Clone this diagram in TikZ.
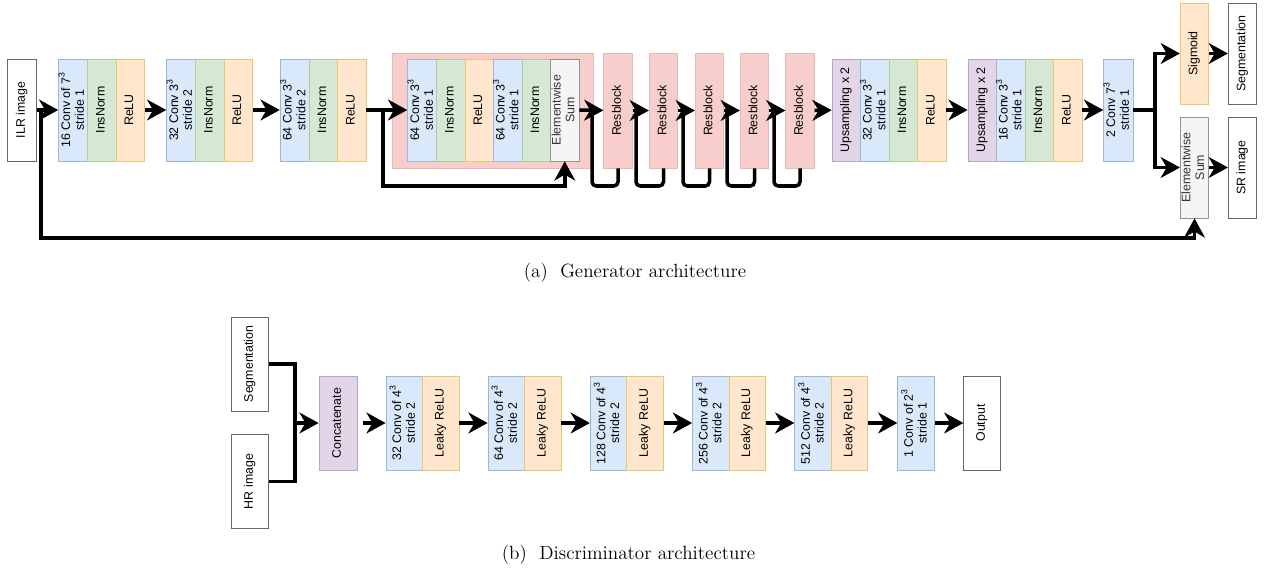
\documentclass[tikz,border=0pt]{standalone}
\usepackage{fontspec}
\setsansfont{Liberation Sans}
\usepackage{graphicx}
\usepackage{tikz}
\usetikzlibrary{arrows.meta,positioning,calc}
\definecolor{convfill}{HTML}{DAE8FC}
\definecolor{convline}{HTML}{6C8EBF}
\definecolor{normfill}{HTML}{D5E8D4}
\definecolor{normline}{HTML}{82B366}
\definecolor{actfill}{HTML}{FFE6CC}
\definecolor{actline}{HTML}{D79B00}
\definecolor{resfill}{HTML}{F8CECC}
\definecolor{resline}{HTML}{B85450}
\definecolor{upfill}{HTML}{E1D5E7}
\definecolor{upline}{HTML}{9673A6}
\definecolor{sumfill}{HTML}{F5F5F5}
\definecolor{sumline}{HTML}{666666}
\definecolor{sumtext}{HTML}{333333}
\newcommand{\vlab}[1]{\rotatebox{90}{\begin{tabular}{@{}c@{}}#1\end{tabular}}}
\tikzset{
  col/.style={rectangle, inner sep=0pt, line width=0.5pt, minimum width=0.7125cm, minimum height=2.55cm, font=\sffamily\fontsize{8.8}{9.8}\selectfont},
  dcol/.style={col, minimum width=0.9125cm, minimum height=2.35cm},
  conv/.style={draw=convline!65, fill=convfill},
  norm/.style={draw=normline!65, fill=normfill},
  act/.style={draw=actline!55, fill=actfill},
  upsamp/.style={draw=upline!65, fill=upfill},
  sumbox/.style={draw=sumline!70, fill=sumfill, text=sumtext},
  iobox/.style={draw=black!60, fill=white},
  resb/.style={col, draw=resline!40, fill=resfill, minimum height=2.875cm},
  resbg/.style={rectangle, draw=resline!40, fill=resfill, line width=0.5pt, minimum width=5.025cm, minimum height=2.875cm},
  wire/.style={line width=2.5pt},
  loopline/.style={wire, rounded corners=3pt},
  flow/.style={wire, -{Stealth[length=4.8mm, width=5.2mm, inset=1.5mm]}},
  caption/.style={font=\fontsize{13.6}{16}\selectfont},
}
\begin{document}
\begin{tikzpicture}[x=0.025cm, y=-0.025cm]
  \useasboundingbox (0,0) rectangle (1266,572);
  % generator
  \node[resbg] (rbox) at (492.5,110.5) {};
  \node[col,iobox] (ilr) at (22,110) {\vlab{ILR image}};
  \node[col,conv] (c1) at (73.25,110) {\vlab{16 Conv of 7\textsuperscript{3}\\stride 1}};
  \node[col,norm] (n1) at (101.75,110) {\vlab{InsNorm}};
  \node[col,act] (r1) at (130.25,110) {\vlab{ReLU}};
  \node[col,conv] (c2) at (181.25,110) {\vlab{32 Conv 3\textsuperscript{3}\\stride 2}};
  \node[col,norm] (n2) at (209.75,110) {\vlab{InsNorm}};
  \node[col,act] (r2) at (238.25,110) {\vlab{ReLU}};
  \node[col,conv] (c3) at (294.75,110) {\vlab{64 Conv 3\textsuperscript{3}\\stride 2}};
  \node[col,norm] (n3) at (323.25,110) {\vlab{InsNorm}};
  \node[col,act] (r3) at (351.75,110) {\vlab{ReLU}};
  \node[col,conv] (rc1) at (422.25,110) {\vlab{64 Conv 3\textsuperscript{3}\\stride 1}};
  \node[col,norm] (rn1) at (450.75,110) {\vlab{InsNorm}};
  \node[col,act] (rr) at (479.25,110) {\vlab{ReLU}};
  \node[col,conv] (rc2) at (507.75,110) {\vlab{64 Conv 3\textsuperscript{3}\\stride 1}};
  \node[col,norm] (rn2) at (536.25,110) {\vlab{InsNorm}};
  \node[col,sumbox] (rsum) at (564.75,110) {\vlab{Elementwise\\Sum}};
  \node[resb] (res1) at (618,110.5) {\vlab{Resblock}};
  \node[resb] (res2) at (663.5,110.5) {\vlab{Resblock}};
  \node[resb] (res3) at (709.5,110.5) {\vlab{Resblock}};
  \node[resb] (res4) at (754.5,110.5) {\vlab{Resblock}};
  \node[resb] (res5) at (800,110.5) {\vlab{Resblock}};
  \node[col,upsamp] (up1) at (846.25,110) {\vlab{Upsampling x 2}};
  \node[col,conv] (uc1) at (874.75,110) {\vlab{32 Conv 3\textsuperscript{3}\\stride 1}};
  \node[col,norm] (un1) at (903.25,110) {\vlab{InsNorm}};
  \node[col,act] (ur1) at (931.75,110) {\vlab{ReLU}};
  \node[col,upsamp] (up2) at (982.25,110) {\vlab{Upsampling x 2}};
  \node[col,conv] (uc2) at (1010.75,110) {\vlab{16 Conv 3\textsuperscript{3}\\stride 1}};
  \node[col,norm] (un2) at (1039.25,110) {\vlab{InsNorm}};
  \node[col,act] (ur2) at (1067.75,110) {\vlab{ReLU}};
  \node[col,conv] (fc) at (1118.25,110) {\vlab{2 Conv 7\textsuperscript{3}\\stride 1}};
  \node[col,act,minimum height=2.525cm] (sig) at (1194.5,53.5) {\vlab{Sigmoid}};
  \node[col,iobox,minimum height=2.525cm] (seg) at (1242.5,53.5) {\vlab{Segmentation}};
  \node[col,sumbox,minimum height=2.525cm] (esum) at (1194.5,167.5) {\vlab{Elementwise\\Sum}};
  \node[col,iobox,minimum height=2.525cm] (sr) at (1242.5,167.5) {\vlab{SR image}};
  \coordinate (s0) at (41,110); \coordinate (s1) at (41,238);
  \coordinate (k0) at (383,110); \coordinate (k1) at (383,186);
  \coordinate (l1) at (592,186); \coordinate (l1t) at (592,110);
  \coordinate (l2) at (636,186); \coordinate (l2t) at (636,110);
  \coordinate (l3) at (683,186); \coordinate (l3t) at (683,110);
  \coordinate (l4) at (727,186); \coordinate (l4t) at (727,110);
  \coordinate (l5) at (774,186); \coordinate (l5t) at (774,110);
  \coordinate (split) at (1155,110);
  \draw[flow] (ilr)--(c1); \draw[flow] (r1)--(c2); \draw[flow] (r2)--(c3); \draw[flow] (r3)--(rc1);
  \draw[flow] (s0)--(s1)-|(esum); \draw[flow] (k0)--(k1)-|(rsum);
  \draw[flow] (rsum)--(res1); \draw[flow] (res1)--(res2); \draw[flow] (res2)--(res3);
  \draw[flow] (res3)--(res4); \draw[flow] (res4)--(res5); \draw[flow] (res5)--(up1);
  \draw[loopline] (res1)|-(l1)--(l1t); \draw[loopline] (res2)|-(l2)--(l2t);
  \draw[loopline] (res3)|-(l3)--(l3t); \draw[loopline] (res4)|-(l4)--(l4t);
  \draw[loopline] (res5)|-(l5)--(l5t);
  \draw[flow] (ur1)--(up2); \draw[flow] (ur2)--(fc);
  \draw[flow] (fc)--(split)|-(sig); \draw[flow] (split)|-(esum);
  \draw[flow] (sig)--(seg); \draw[flow] (esum)--(sr);
  \node[caption] (capa) at (635,273) {(a)\ \ Generator architecture};
  % discriminator
  \node[dcol,iobox] (dseg) at (250,364) {\vlab{Segmentation}};
  \node[dcol,iobox] (dhr) at (250,481.5) {\vlab{HR image}};
  \node[dcol,upsamp,minimum width=0.95cm] (cat) at (338,423) {\vlab{Concatenate}};
  \node[dcol,conv] (dc1) at (404.25,423) {\vlab{32 Conv of 4\textsuperscript{3}\\stride 2}};
  \node[dcol,act] (dl1) at (440.75,423) {\vlab{Leaky ReLU}};
  \node[dcol,conv] (dc2) at (506.25,423) {\vlab{64 Conv of 4\textsuperscript{3}\\stride 2}};
  \node[dcol,act] (dl2) at (542.75,423) {\vlab{Leaky ReLU}};
  \node[dcol,conv] (dc3) at (608.5,423) {\vlab{128 Conv of 4\textsuperscript{3}\\stride 2}};
  \node[dcol,act] (dl3) at (645,423) {\vlab{Leaky ReLU}};
  \node[dcol,conv] (dc4) at (710.75,423) {\vlab{256 Conv of 4\textsuperscript{3}\\stride 2}};
  \node[dcol,act] (dl4) at (747.25,423) {\vlab{Leaky ReLU}};
  \node[dcol,conv] (dc5) at (813,423) {\vlab{512 Conv of 4\textsuperscript{3}\\stride 2}};
  \node[dcol,act] (dl5) at (849.5,423) {\vlab{Leaky ReLU}};
  \node[dcol,conv] (dfc) at (916,423) {\vlab{1 Conv of 2\textsuperscript{3}\\stride 1}};
  \node[dcol,iobox] (out) at (982,423) {\vlab{Output}};
  \coordinate (jn) at (295,423);
  \draw[wire] (dseg)-|(jn)|-(dhr); \draw[flow] (jn)--(cat);
  \draw[flow,shorten <=0.15cm] (cat)--(dc1); \draw[flow] (dl1)--(dc2); \draw[flow] (dl2)--(dc3);
  \draw[flow] (dl3)--(dc4); \draw[flow] (dl4)--(dc5); \draw[flow] (dl5)--(dfc); \draw[flow] (dfc)--(out);
  \node[caption] (capb) at (628.5,555) {(b)\ \ Discriminator architecture};
\end{tikzpicture}
\end{document}
